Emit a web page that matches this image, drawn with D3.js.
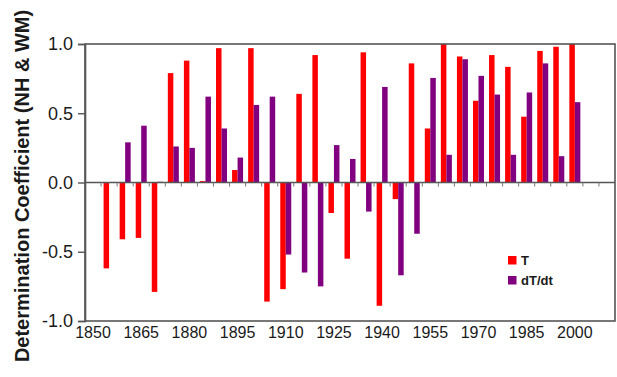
<!DOCTYPE html>
<html>
<head>
<meta charset="utf-8">
<script src="https://cdn.jsdelivr.net/npm/d3@7"></script>
<style>
    body { margin: 0; background: #fff; }
    svg { display: block; font-family: "Liberation Sans", Arial, sans-serif; }
</style>
</head>
<body>
<svg id="chart" width="617" height="377"></svg>
<script>
// category slots on the x axis (5-year steps), bars use the years in between
var axisYears = [1850, 1855, 1860, 1865, 1870, 1875, 1880, 1885, 1890, 1895, 1900,
    1905, 1910, 1915, 1920, 1925, 1930, 1935, 1940, 1945, 1950, 1955, 1960,
    1965, 1970, 1975, 1980, 1985, 1990, 1995, 2000, 2005, 2010];
var barYears = [1855, 1860, 1865, 1870, 1875, 1880, 1885, 1890, 1895, 1900,
    1905, 1910, 1915, 1920, 1925, 1930, 1935, 1940, 1945, 1950, 1955, 1960,
    1965, 1970, 1975, 1980, 1985, 1990, 1995, 2000];
var tValues = [-0.62, -0.41, -0.40, -0.79, 0.79, 0.88, 0.01, 0.97, 0.09, 0.97,
    -0.86, -0.77, 0.64, 0.92, -0.22, -0.55, 0.94, -0.89, -0.12, 0.86,
    0.39, 1.00, 0.91, 0.59, 0.92, 0.835, 0.475, 0.95, 0.98, 1.00];
var dtValues = [0.0, 0.29, 0.41, 0.005, 0.26, 0.25, 0.62, 0.39, 0.18, 0.56,
    0.62, -0.52, -0.65, -0.75, 0.27, 0.17, -0.21, 0.69, -0.67, -0.37,
    0.755, 0.20, 0.89, 0.77, 0.635, 0.20, 0.65, 0.86, 0.19, 0.58];
var xLabels = [1850, 1865, 1880, 1895, 1910, 1925, 1940, 1955, 1970, 1985, 2000];
var yTicks = [-1.0, -0.5, 0.0, 0.5, 1.0];
var seriesNames = ["T", "dT/dt"];
var seriesColors = ["#ff0000", "#800080"];

var svg = d3.select("#chart");
var plot = { left: 85, right: 615, top: 44, bottom: 321 };

var x = d3.scaleBand().domain(axisYears).range([plot.left, plot.right]);
var inner = d3.scaleBand().domain(seriesNames)
    .range([0, x.step()]).paddingOuter(0.46);
var y = d3.scaleLinear().domain([-1, 1]).range([plot.bottom, plot.top]);

var rows = barYears.map(function (yr, i) {
    return { year: yr, values: [tValues[i], dtValues[i]] };
});

// bars
var groups = svg.append("g").selectAll("g")
    .data(rows).enter().append("g")
    .attr("transform", function (d) { return "translate(" + x(d.year) + ",0)"; });

groups.selectAll("rect")
    .data(function (d) {
        return d.values.map(function (v, j) { return { name: seriesNames[j], value: v, color: seriesColors[j] }; });
    })
    .enter().append("rect")
    .attr("x", function (d) { return inner(d.name); })
    .attr("width", inner.bandwidth())
    .attr("y", function (d) { return y(Math.max(0, d.value)); })
    .attr("height", function (d) { return Math.abs(y(d.value) - y(0)); })
    .attr("fill", function (d) { return d.color; });

// frame
svg.append("rect")
    .attr("x", plot.left).attr("y", plot.top)
    .attr("width", plot.right - plot.left).attr("height", plot.bottom - plot.top)
    .attr("fill", "none").attr("stroke", "#555").attr("stroke-width", 1.6);

// zero line with category ticks
var zero = svg.append("g").attr("transform", "translate(0," + y(0) + ")");
zero.append("line")
    .attr("x1", plot.left).attr("x2", plot.right)
    .attr("stroke", "#555").attr("stroke-width", 1.4);
zero.selectAll("line.tick")
    .data(axisYears.slice(1))
    .enter().append("line").attr("class", "tick")
    .attr("x1", function (d) { return x(d); }).attr("x2", function (d) { return x(d); })
    .attr("y1", 0).attr("y2", 4)
    .attr("stroke", "#777").attr("stroke-width", 1);

// y axis
var yAxis = svg.append("g")
    .attr("transform", "translate(" + plot.left + ",0)")
    .call(d3.axisLeft(y).tickValues(yTicks).tickSize(7).tickPadding(5)
        .tickFormat(function (d) { return d.toFixed(1); }));
yAxis.select(".domain").attr("stroke", "#555").attr("stroke-width", 1.6);
yAxis.selectAll(".tick line").attr("stroke", "#555").attr("stroke-width", 1.4);
yAxis.selectAll(".tick text")
    .attr("font-size", 18).attr("font-family", "Liberation Sans, Arial, sans-serif")
    .attr("fill", "#1a1a1a");

// x labels
svg.append("g").selectAll("text")
    .data(xLabels).enter().append("text")
    .attr("x", function (d) { return x(d) + x.bandwidth() / 2; })
    .attr("y", 338)
    .attr("text-anchor", "middle")
    .attr("font-size", 16)
    .attr("fill", "#1a1a1a")
    .text(function (d) { return d; });

// y title
svg.append("text")
    .attr("transform", "translate(29,186) rotate(-90)")
    .attr("text-anchor", "middle")
    .attr("font-size", 20)
    .attr("font-weight", "bold")
    .attr("fill", "#1a1a1a")
    .text("Determination Coefficient (NH & WM)");

// legend
var legend = svg.append("g").attr("transform", "translate(508,256)");
var items = legend.selectAll("g")
    .data(seriesNames).enter().append("g")
    .attr("transform", function (d, i) { return "translate(0," + (i * 20) + ")"; });
items.append("rect")
    .attr("width", 8.5).attr("height", 8.5)
    .attr("fill", function (d, i) { return seriesColors[i]; });
items.append("text")
    .attr("x", 13).attr("y", 9)
    .attr("font-size", 13).attr("font-weight", "bold")
    .attr("fill", "#1a1a1a")
    .text(function (d) { return d; });
</script>
</body>
</html>
